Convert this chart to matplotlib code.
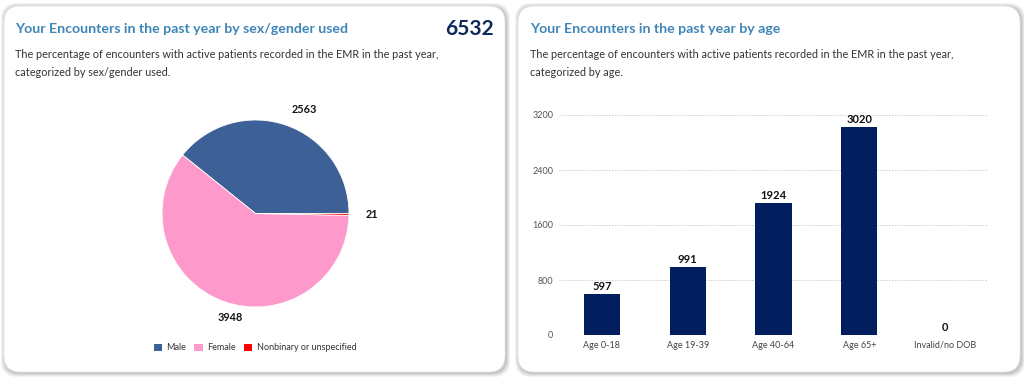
import matplotlib
matplotlib.use("Agg")
import matplotlib.pyplot as plt
from matplotlib.patches import FancyBboxPatch, Patch

# ---- data ----
sex_labels = ["Male", "Female", "Nonbinary or unspecified"]
sex_values = [2563, 3948, 21]
sex_colors = ["#3d6096", "#fd9acb", "#ff0000"]
total_encounters = 6532

age_labels = ["Age 0-18", "Age 19-39", "Age 40-64", "Age 65+", "Invalid/no DOB"]
age_values = [597, 991, 1924, 3020, 0]
age_ticks = [0, 800, 1600, 2400, 3200]

W, H = 1024, 379
plt.rcParams['font.family'] = ['Lato', 'DejaVu Sans']
fig = plt.figure(figsize=(W / 100, H / 100), dpi=100)
fig.patch.set_facecolor("#ffffff")

def px(x, y):
    return x / W, 1 - y / H

def card(x0, y0, x1, y1):
    # shadow
    for i, a in enumerate([0.05, 0.05, 0.06, 0.08]):
        g = 4 - i
        p = FancyBboxPatch(((x0 - g + 1) / W, 1 - (y1 + g + 1) / H), (x1 - x0 + 2 * g) / W,
                           (y1 - y0 + 2 * g) / H,
                           boxstyle="round,pad=0,rounding_size=0.016",
                           transform=fig.transFigure, facecolor="#000000", alpha=a,
                           edgecolor="none", mutation_aspect=W / H, zorder=-10)
        fig.patches.append(p)
    p = FancyBboxPatch((x0 / W, 1 - y1 / H), (x1 - x0) / W, (y1 - y0) / H,
                       boxstyle="round,pad=0,rounding_size=0.016",
                       transform=fig.transFigure, facecolor="white",
                       edgecolor="#e6e6e6", linewidth=0.6, mutation_aspect=W / H, zorder=-9)
    fig.patches.append(p)

card(4, 6, 505, 372)
card(518, 6, 1020, 372)

title_color = "#3f86b8"
sub_color = "#333333"
navy = "#021e5e"

# left card texts
fig.text(*px(15, 29), "Your Encounters in the past year by sex/gender used", fontsize=10.2,
         fontweight="bold", color=title_color, va="center", ha="left")
fig.text(*px(494, 29), str(total_encounters), fontsize=15, fontweight="bold",
         color="#0f2a5a", va="center", ha="right")
fig.text(*px(15, 55), "The percentage of encounters with active patients recorded in the EMR in the past year,",
         fontsize=7.8, color=sub_color, va="center", ha="left")
fig.text(*px(15, 72), "categorized by sex/gender used.", fontsize=7.8, color=sub_color,
         va="center", ha="left")

# right card texts
fig.text(*px(530, 29), "Your Encounters in the past year by age", fontsize=10.2,
         fontweight="bold", color=title_color, va="center", ha="left")
fig.text(*px(530, 55), "The percentage of encounters with active patients recorded in the EMR in the past year,",
         fontsize=7.8, color=sub_color, va="center", ha="left")
fig.text(*px(530, 72), "categorized by age.", fontsize=7.8, color=sub_color,
         va="center", ha="left")

# ---- pie ----
cx, cy, r = 255.5, 213.5, 93.5
axp = fig.add_axes([(cx - r) / W, (H - cy - r) / H, 2 * r / W, 2 * r / H])
wedges, texts = axp.pie(sex_values, colors=sex_colors, startangle=0, counterclock=True,
                        labels=[str(v) for v in sex_values], labeldistance=1.18,
                        wedgeprops=dict(edgecolor="white", linewidth=0.6),
                        textprops=dict(fontsize=7.8, fontweight="bold", color="#111111"))
for t in texts:
    t.set_ha("left")
    t.set_va("center")
axp.set_xlim(-1, 1)
axp.set_ylim(-1, 1)
axp.set_aspect("equal")
axp.axis("off")

handles = [Patch(facecolor=c, edgecolor="none") for c in sex_colors]
fig.legend(handles, sex_labels, loc="center", bbox_to_anchor=px(255, 348), ncol=3,
           frameon=False, fontsize=6.5, handlelength=0.9, handleheight=0.9,
           handletextpad=0.5, columnspacing=0.9, labelcolor="#333333")

# ---- bars ----
axb = fig.add_axes([559 / W, (H - 335) / H, 429 / W, 220 / H])
x = range(len(age_labels))
bars = axb.bar(x, age_values, width=0.42, color=navy, edgecolor="none")
axb.set_xlim(-0.5, len(age_labels) - 0.5)
axb.set_ylim(0, 3200)
axb.set_yticks(age_ticks)
axb.set_yticklabels([str(t) for t in age_ticks], fontsize=6.5, color="#555555")
axb.set_xticks(list(x))
axb.set_xticklabels(age_labels, fontsize=6.5, color="#444444")
axb.tick_params(axis="both", length=0)
axb.tick_params(axis="y", pad=4)
axb.tick_params(axis="x", pad=4)
for s in axb.spines.values():
    s.set_visible(False)
axb.yaxis.grid(True, linestyle=(0, (1.5, 1.5)), color="#cccccc", linewidth=0.7)
axb.set_axisbelow(True)
for b, v in zip(bars, age_values):
    axb.annotate(str(v), (b.get_x() + b.get_width() / 2, v), xytext=(0, 1.5),
                 textcoords="offset points", ha="center", va="bottom",
                 fontsize=8, fontweight="bold", color="#111111", clip_on=False)

fig.savefig("out.png", dpi=100, facecolor=fig.get_facecolor())
